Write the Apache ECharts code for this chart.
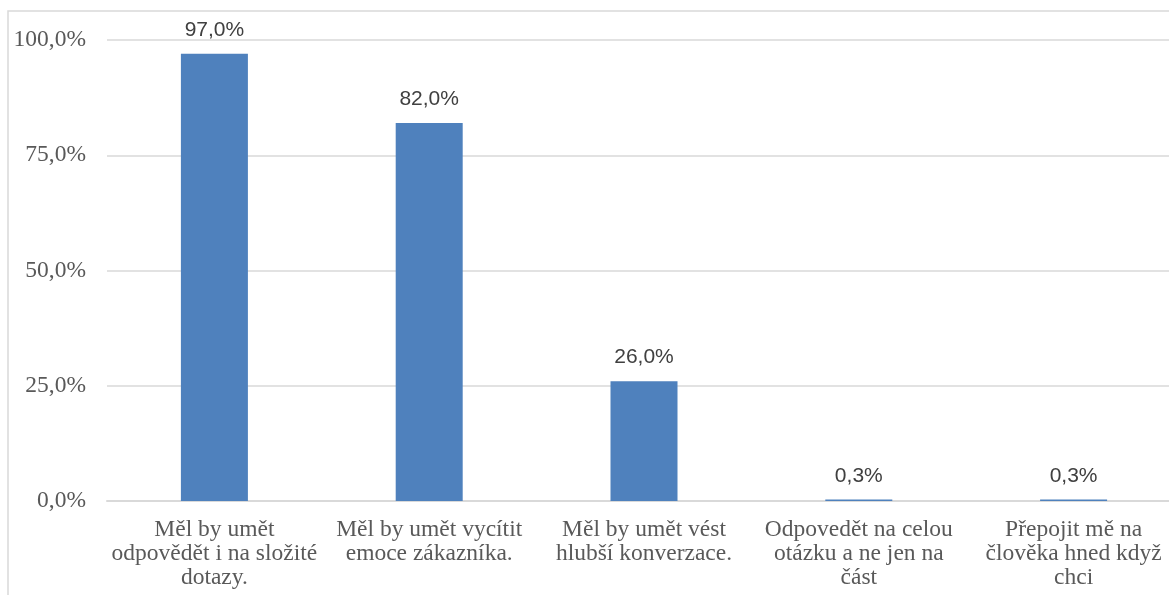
<!DOCTYPE html>
<html>
<head>
<meta charset="utf-8">
<script src="https://cdn.jsdelivr.net/npm/echarts@6/dist/echarts.min.js"></script>
<style>
  html, body { margin: 0; padding: 0; background: #ffffff; overflow: hidden; }
  /* canvas is a little wider than the page so the plot area runs off the right edge */
  #chart { width: 1181px; height: 595px; }
</style>
</head>
<body>
<div id="chart"></div>
<script>
// Survey answers: what the chatbot should be able to do
const categories = [
  'Měl by umět\nodpovědět i na složité\ndotazy.',
  'Měl by umět vycítit\nemoce zákazníka.',
  'Měl by umět vést\nhlubší konverzace.',
  'Odpovedět na celou\notázku a ne jen na\nčást',
  'Přepojit mě na\nčlověka hned když\nchci'
];
const shares = [97.0, 82.0, 26.0, 0.3, 0.3];
const yTicks = { min: 0, max: 100, interval: 25 };

const fmtPct = v => v.toFixed(1).replace('.', ',') + '%';

const chart = echarts.init(document.getElementById('chart'), null, { renderer: 'canvas' });

chart.setOption({
  animation: false,
  backgroundColor: '#ffffff',
  graphic: [{
    type: 'rect',
    shape: { x: 8, y: 11, width: 1300, height: 700 },
    style: { fill: 'none', stroke: '#d9d9d9', lineWidth: 1.5 },
    silent: true
  }],
  grid: { left: 107, right: 0, top: 40, bottom: 94, containLabel: false },
  xAxis: {
    type: 'category',
    data: categories,
    axisLine: { show: true, lineStyle: { color: '#d9d9d9', width: 2 } },
    axisTick: { show: false },
    axisLabel: {
      interval: 0,
      margin: 17,
      color: '#595959',
      fontFamily: '"Liberation Serif", "Times New Roman", serif',
      fontSize: 23.5,
      lineHeight: 24,
      align: 'center'
    }
  },
  yAxis: {
    type: 'value',
    min: yTicks.min,
    max: yTicks.max,
    interval: yTicks.interval,
    axisLine: { show: false },
    axisTick: { show: false },
    splitLine: { lineStyle: { color: '#d9d9d9', width: 1.5 } },
    axisLabel: {
      margin: 21,
      color: '#595959',
      fontFamily: '"Liberation Serif", "Times New Roman", serif',
      fontSize: 23.5,
      formatter: fmtPct
    }
  },
  series: [{
    type: 'bar',
    data: shares,
    barWidth: 67,
    itemStyle: { color: '#4f81bd' },
    label: {
      show: true,
      position: 'top',
      distance: 13,
      color: '#404040',
      fontFamily: '"Liberation Sans", Arial, sans-serif',
      fontSize: 21,
      formatter: p => fmtPct(p.value)
    }
  }]
});
</script>
</body>
</html>
